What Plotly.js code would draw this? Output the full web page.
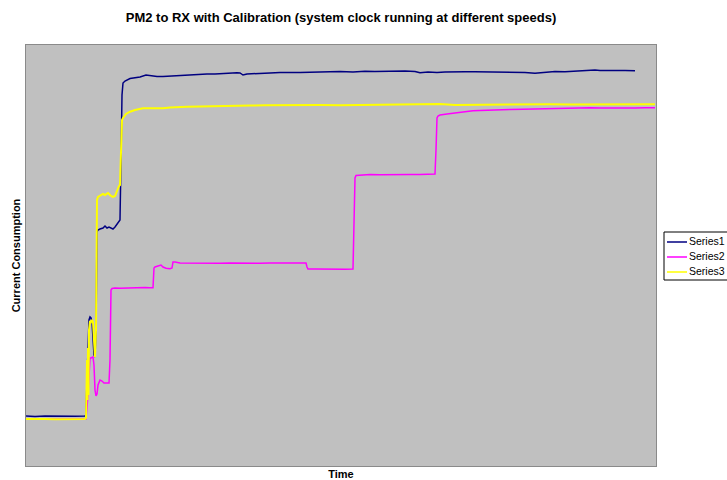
<!DOCTYPE html>
<html>
<head>
<meta charset="utf-8">
<script src="https://cdn.plot.ly/plotly-3.0.1.min.js"></script>
<style>html,body{margin:0;padding:0;background:#fff;}#chart{width:727px;height:480px;}</style>
</head>
<body>
<div id="chart"></div>
<script>
// Values (time in samples, current in arbitrary units)
const series1Time = [0,9,19,29,39,49,59,60,61,62,63,64,65,66,67,68,69,70,71,72,74,77,79,81,83,85,87,89,91,93,94,95,96,97,99,104,109,114,120,126,131,137,144,152,161,169,174,181,189,196,204,211,214,217,221,229,237,244,254,264,274,284,294,304,314,327,339,349,359,369,379,389,394,402,411,419,429,439,449,459,469,479,489,499,509,519,524,529,539,549,559,569,574,581,589,599,609,619,629];
const series1Value = [50,49.5,50,49.7,50,49.8,50,51,86,126,146,149,148,144,126,111,109,136,234,236,237,238,240,238,239,238,237,239,242,244,246,306,371,383,385,387.5,388,389,391,390,389.5,389.5,390,390.5,391,391.5,391.5,392,392,392.5,392.5,393.3,393,391,392,392.5,393.3,393,393.5,393.2,393.5,393.7,394.2,394.3,394.5,394,394.7,394.5,394.8,394.8,395,394.5,393.3,394,393.5,394,393.8,394.2,394.2,394,393.7,394.2,394,393.5,392.7,393.5,394.2,394.5,394.3,395,395.2,396,395.5,395.3,395.5,395.5,395.3];

const series2Time = [0,59,60,62,63,64,65,67,68,69,70,71,72,74,76,78,81,83,84,85,86,89,94,99,104,109,114,119,124,127,128,129,132,135,137,140,144,146,147,149,154,164,174,184,194,204,214,224,234,244,254,264,274,280,281,282,289,299,309,319,327,328,329,330,334,344,354,364,374,384,394,404,409,410,411,412,414,421,430,439,447,454,464,474,484,497,509,524,537,549,564,574,584,597,609,619,629];
const series2Value = [47,47,47,71,96,108,108,109,101,76,70,72,81,86,85,83,83,83,106,176,177.5,178,177.7,178,178.2,178,178.3,178.5,178.3,178.3,198,199,200,201,199,197.7,197.3,198,204,204,203,202.8,203,202.5,202.8,203,202.7,202.5,202.8,203,203.2,203,203.2,203,199,197,197,196.8,197,196.8,197,236,288,290.5,291,291.5,291.2,291.5,291.3,291.5,291.4,292,292,316,348,350,351,352,353.3,354,355.3,355.5,356,356.2,356.5,356.7,357,357.5,358.3,358,358.3,358,357.8,357.7,358,358.2,358.3];

const series3Time = [0,9,19,29,39,49,59,60,61,61.5,62,62.5,63,64,65,66,67,68,69,70,71,72,74,77,79,82,85,87,89,91,93,94,95,96,97,100,104,109,117,124,131,137,144,152,161,174,189,204,211,224,239,261,274,294,314,327,344,364,379,394,414,429,444,464,484,504,524,544,564,584,604,619,629];
const series3Value = [47,46.7,47,46.8,47,46.7,47,48,106,66,118,71,136,145,144,146,144,126,109,136,266,269,270,272,271,273,270,269,270,276,280,281,316,346,348,352,354.3,356,357.7,357.5,357.7,357.7,358.5,359,359.3,359.5,360,360.2,360.3,360.5,360.7,361,361,361,360.8,361,361,361.2,361.5,361.4,362,361,361.2,361,361.5,361.4,361.7,361.5,361.4,361.7,361.5,361.8,361.7];

const seriesNames = ['Series1','Series2','Series3'];
const seriesColors = ['#000080','#FF00FF','#FFFF00'];

const FONT = 'Liberation Sans, Arial, sans-serif';
const traces = [
  [series1Time, series1Value],
  [series2Time, series2Value],
  [series3Time, series3Value]
].map((d, i) => ({
  type: 'scatter', mode: 'lines', x: d[0], y: d[1], name: seriesNames[i],
  line: {color: seriesColors[i], width: i === 2 ? 2 : 1.5}
}));

// Plot area in pixels: x 26..656, y 45..466  -> helpers to place the legend box in paper coords
const PL = 26, PW = 630, PB = 466, PH = 421;
const px = v => (v - PL) / PW;
const py = v => (PB - v) / PH;

const shapes = [{type: 'rect', xref: 'paper', yref: 'paper', x0: px(664), x1: px(740), y0: py(280), y1: py(232),
                 line: {color: '#000', width: 1}, fillcolor: '#fff', layer: 'above'}];
const annotations = [];
seriesNames.forEach((name, i) => {
  const yy = 242 + i * 15;
  shapes.push({type: 'line', xref: 'paper', yref: 'paper', x0: px(667), x1: px(687), y0: py(yy), y1: py(yy),
               line: {color: seriesColors[i], width: 1.5}, layer: 'above'});
  annotations.push({xref: 'paper', yref: 'paper', x: px(687), y: py(yy - 1), xanchor: 'left', yanchor: 'middle',
                    text: name, showarrow: false, font: {size: 10.5, family: FONT, color: '#000'}});
});

const layout = {
  width: 727, height: 480,
  margin: {l: 26, r: 71, t: 45, b: 14},
  paper_bgcolor: '#ffffff',
  plot_bgcolor: '#C0C0C0',
  font: {family: FONT, color: '#000'},
  title: {text: '<b>PM2 to RX with Calibration (system clock running at different speeds)</b>',
          font: {size: 13, family: FONT}, x: 341/727, xanchor: 'center', y: 1 - 17/480, yanchor: 'middle'},
  xaxis: {range: [0, 630], showgrid: false, zeroline: false, showticklabels: false, ticks: '',
          showline: true, mirror: true, linecolor: '#8a8a8a', linewidth: 1,
          title: {text: '<b>Time</b>', font: {size: 11, family: FONT}, standoff: 6}},
  yaxis: {range: [0, 421], showgrid: false, zeroline: false, showticklabels: false, ticks: '',
          showline: true, mirror: true, linecolor: '#8a8a8a', linewidth: 1,
          title: {text: '<b>Current Consumption</b>', font: {size: 11, family: FONT}, standoff: 2}},
  showlegend: false,
  shapes: shapes,
  annotations: annotations
};

Plotly.newPlot('chart', traces, layout, {displayModeBar: false, staticPlot: true});
</script>
</body>
</html>
